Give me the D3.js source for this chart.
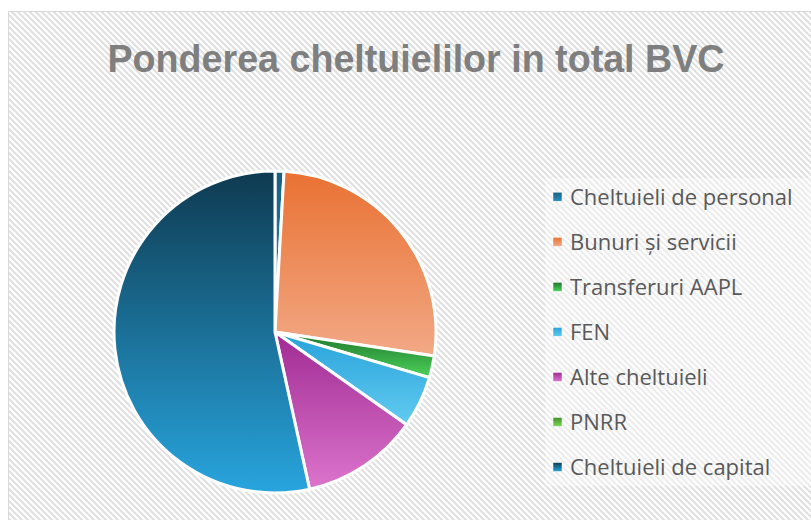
<!DOCTYPE html>
<html>
<head>
<meta charset="utf-8">
<script src="https://cdn.jsdelivr.net/npm/d3@7"></script>
<style>
  html, body { margin: 0; padding: 0; background: #fff; }
  svg { display: block; }
</style>
</head>
<body>
<svg id="chart" width="811" height="520"></svg>
<script>
// data (share of total, %)
const categories = ["Cheltuieli de personal", "Bunuri și servicii", "Transferuri AAPL", "FEN", "Alte cheltuieli", "PNRR", "Cheltuieli de capital"];
const values = [0.9, 26.5, 2.2, 5.2, 11.8, 0, 53.5];
const chartTitle = "Ponderea cheltuielilor in total BVC";

// gradient top/bottom colours per slice
const colorTop = ["#155f82", "#e97132", "#1c7428", "#27a2da", "#a02b93", "#3f8f25", "#0e3a50"];
const colorBottom = ["#2a8fc0", "#f2a986", "#4dd35c", "#62cbf0", "#dc74cc", "#7fd95a", "#28a5de"];

const svg = d3.select("#chart");
const defs = svg.append("defs");

// diagonal stripes background
const pat = defs.append("pattern")
    .attr("id", "stripes")
    .attr("patternUnits", "userSpaceOnUse")
    .attr("width", 6)
    .attr("height", 6);
pat.append("rect").attr("width", 6).attr("height", 6).attr("fill", "#ffffff");
pat.append("path")
    .attr("d", "M-1,-1 L7,7 M-4,2 L2,8 M4,-2 L8,2")
    .attr("stroke", "#e0e0e0")
    .attr("stroke-width", 2);

categories.forEach((c, i) => {
    const g = defs.append("linearGradient")
        .attr("id", "grad" + i)
        .attr("x1", 0).attr("y1", 0).attr("x2", 0).attr("y2", 1);
    g.append("stop").attr("offset", "0%").attr("stop-color", colorTop[i]);
    g.append("stop").attr("offset", "100%").attr("stop-color", colorBottom[i]);
});

// chart area
svg.append("rect")
    .attr("x", 8.5).attr("y", 11.5)
    .attr("width", 820).attr("height", 520)
    .attr("fill", "url(#stripes)")
    .attr("stroke", "#d9d9d9")
    .attr("stroke-width", 1);

svg.append("text")
    .attr("x", 416)
    .attr("y", 72)
    .attr("text-anchor", "middle")
    .attr("textLength", 617)
    .attr("lengthAdjust", "spacingAndGlyphs")
    .style("font-family", "'Liberation Sans Narrow', 'Arial Narrow', 'Liberation Sans', sans-serif")
    .style("font-weight", "bold")
    .style("font-size", "39px")
    .style("fill", "#7f7f7f")
    .text(chartTitle);

// pie
const cx = 275, cy = 332, radius = 161;
const pie = d3.pie().sort(null).value(d => d.value);
const arc = d3.arc().innerRadius(0).outerRadius(radius);

const data = categories.map((c, i) => ({ name: c, value: values[i], idx: i }));

const pg = svg.append("g").attr("transform", `translate(${cx},${cy})`);
pg.selectAll("path")
    .data(pie(data).filter(d => d.data.value > 0))
    .enter()
    .append("path")
    .attr("d", arc)
    .attr("fill", d => `url(#grad${d.data.idx})`)
    .attr("stroke", "#ffffff")
    .attr("stroke-width", 3)
    .attr("stroke-linejoin", "round");

// legend
svg.append("rect")
    .attr("x", 545).attr("y", 178)
    .attr("width", 270).attr("height", 308)
    .attr("fill", "#ffffff")
    .attr("opacity", 0.4);

const ly = d3.scalePoint()
    .domain(categories)
    .range([196.7, 467]);

const lg = svg.append("g");
const items = lg.selectAll("g")
    .data(data)
    .enter()
    .append("g")
    .attr("transform", d => `translate(553,${ly(d.name)})`);

items.append("rect")
    .attr("x", 0).attr("y", -4.5)
    .attr("width", 9).attr("height", 9)
    .attr("fill", d => `url(#grad${d.idx})`)
    .attr("stroke", "#ffffff")
    .attr("stroke-width", 0.5);

items.append("text")
    .attr("x", 17)
    .attr("y", 8)
    .style("font-family", "'Open Sans', 'Liberation Sans', Arial, sans-serif")
    .style("font-size", "22px")
    .style("fill", "#595959")
    .text(d => d.name);
</script>
</body>
</html>
